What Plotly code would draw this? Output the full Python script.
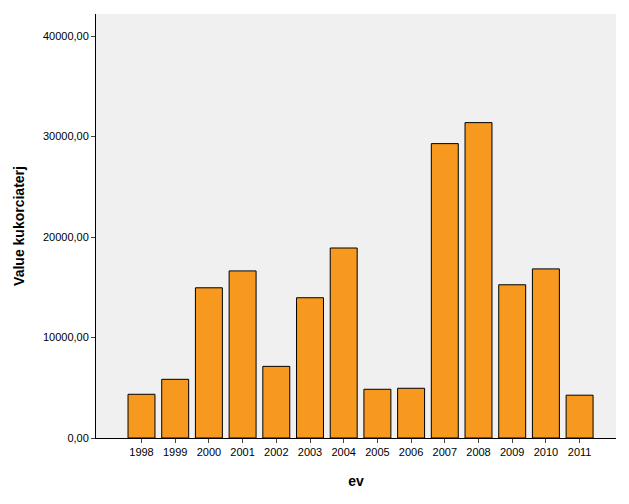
import plotly.graph_objects as go

years = ["1998", "1999", "2000", "2001", "2002", "2003", "2004",
         "2005", "2006", "2007", "2008", "2009", "2010", "2011"]
values = [4350, 5840, 14950, 16630, 7130, 13960, 18910,
          4850, 4950, 29300, 31390, 15250, 16830, 4260]

fig = go.Figure(go.Bar(
    x=years, y=values, width=0.8,
    marker=dict(color="#f7991f", line=dict(color="black", width=1)),
))

fig.update_layout(
    width=629, height=504,
    margin=dict(l=88, r=21, t=6, b=74),
    plot_bgcolor="#f0f0f0", paper_bgcolor="white",
    font=dict(family="Arial, Liberation Sans", size=11, color="black"),
    separators=", ",
    showlegend=False,
)
fig.update_xaxes(
    type="category", range=[-1.35, 14.08], automargin=False,
    showline=True, linecolor="black", ticks="outside", ticklen=4,
    title=dict(text="<b>ev</b>", font=dict(size=14), standoff=18),
    showgrid=False,
)
fig.update_yaxes(
    range=[0, 42200], tickvals=[0, 10000, 20000, 30000, 40000],
    tickformat=".2f", showline=True, linecolor="black", automargin=False,
    ticks="outside", ticklen=4, showgrid=False, zeroline=False,
    title=dict(text="<b>Value kukorciaterj</b>", font=dict(size=14)),
)

fig.write_html("out.html")
